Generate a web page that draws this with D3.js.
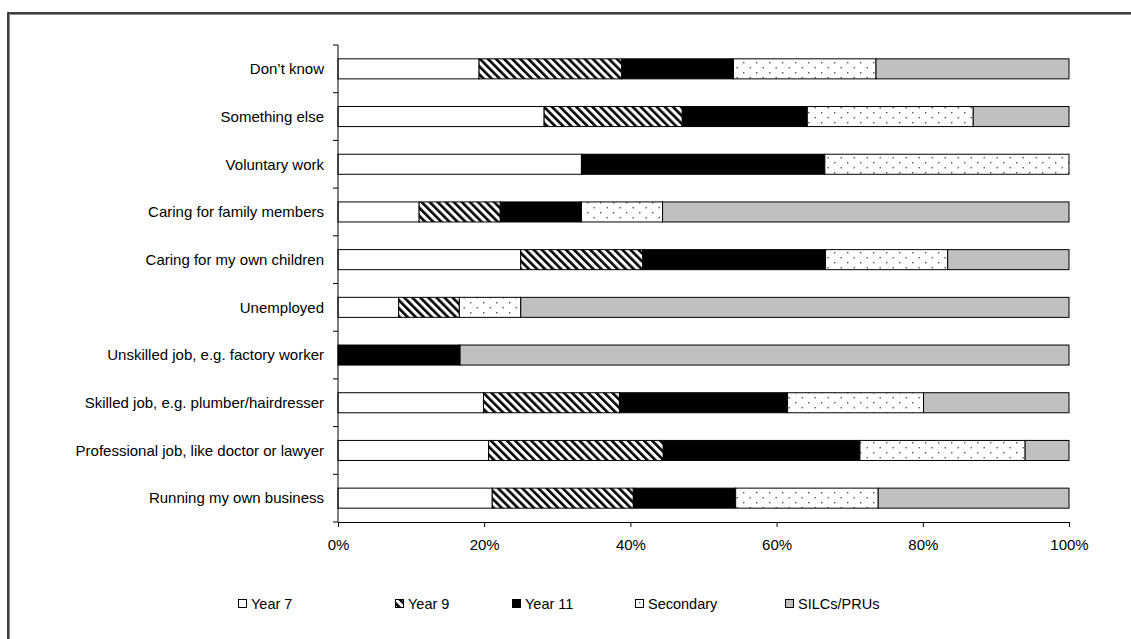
<!DOCTYPE html>
<html>
<head>
<meta charset="utf-8">
<script src="https://cdn.jsdelivr.net/npm/d3@7"></script>
<style>
  html, body { margin: 0; padding: 0; background: #fff; }
  svg { display: block; font-family: "Liberation Sans", Arial, sans-serif; }
</style>
</head>
<body>
<svg id="chart" width="1131" height="639"></svg>
<script>
// Career destinations, share of responses by school group (percent)
const categories = [
  "Don\u2019t know",
  "Something else",
  "Voluntary work",
  "Caring for family members",
  "Caring for my own children",
  "Unemployed",
  "Unskilled job, e.g. factory worker",
  "Skilled job, e.g. plumber/hairdresser",
  "Professional job, like doctor or lawyer",
  "Running my own business"
];
const seriesNames = ["Year 7", "Year 9", "Year 11", "Secondary", "SILCs/PRUs"];
const year7     = [19.3, 28.2, 33.3, 11.1, 25.0,  8.3,  0.0, 19.9, 20.6, 21.1];
const year9     = [19.5, 18.9,  0.0, 11.1, 16.7,  8.3,  0.0, 18.6, 23.9, 19.3];
const year11    = [15.3, 17.1, 33.3, 11.1, 25.0,  0.0, 16.7, 23.0, 26.9, 14.0];
const secondary = [19.5, 22.7, 33.4, 11.1, 16.7,  8.4,  0.0, 18.6, 22.6, 19.5];
const silcs     = [26.4, 13.1,  0.0, 55.6, 16.6, 75.0, 83.3, 19.9,  6.0, 26.1];
const tickValues = [0, 0.2, 0.4, 0.6, 0.8, 1.0];

const svg = d3.select("#chart");

// Fill patterns for the hatched and dotted series
const defs = svg.append("defs");
const stripes = defs.append("pattern")
  .attr("id", "stripes").attr("patternUnits", "userSpaceOnUse")
  .attr("width", 5.7).attr("height", 5.7)
  .attr("patternTransform", "rotate(-45)");
stripes.append("rect").attr("width", 5.7).attr("height", 5.7).attr("fill", "#fff");
stripes.append("rect").attr("x", 0).attr("width", 2.6).attr("height", 5.7).attr("fill", "#000");

const dots = defs.append("pattern")
  .attr("id", "dots").attr("patternUnits", "userSpaceOnUse")
  .attr("width", 13).attr("height", 10);
dots.append("rect").attr("width", 13).attr("height", 10).attr("fill", "#fff");
dots.append("rect").attr("x", 2).attr("y", 2).attr("width", 1.4).attr("height", 1.4).attr("fill", "#555");
dots.append("rect").attr("x", 8.5).attr("y", 7).attr("width", 1.4).attr("height", 1.4).attr("fill", "#555");

const fills = ["#ffffff", "url(#stripes)", "#000000", "url(#dots)", "#c0c0c0"];

// Outer frame
svg.append("path")
  .attr("d", "M9.5,640 V14.5 H1132")
  .attr("fill", "none").attr("stroke", "#888").attr("stroke-width", 1);
svg.append("path")
  .attr("d", "M8,640 V13 H1132")
  .attr("fill", "none").attr("stroke", "#000").attr("stroke-width", 1.5);

const plotLeft = 338, plotRight = 1069, plotTop = 45, plotBottom = 522;

const x = d3.scaleLinear().domain([0, 1]).range([plotLeft, plotRight]);
const y = d3.scaleBand().domain(categories).range([plotTop, plotBottom]).paddingInner(0.58).paddingOuter(0.29);

const rows = categories.map((c, i) => ({
  category: c,
  "Year 7": year7[i] / 100,
  "Year 9": year9[i] / 100,
  "Year 11": year11[i] / 100,
  "Secondary": secondary[i] / 100,
  "SILCs/PRUs": silcs[i] / 100
}));
const stacked = d3.stack().keys(seriesNames)(rows);

// Bars
const g = svg.append("g");
stacked.forEach((layer, si) => {
  g.selectAll(null).data(layer.filter(d => d[1] - d[0] > 0.0005)).enter().append("rect")
    .attr("x", d => x(d[0]))
    .attr("y", d => y(d.data.category))
    .attr("width", d => x(d[1]) - x(d[0]))
    .attr("height", y.bandwidth())
    .attr("fill", fills[si])
    .attr("stroke", "#000")
    .attr("stroke-width", 1);
});

// Category axis (ticks between bands)
const yAxis = svg.append("g");
yAxis.append("line").attr("x1", plotLeft).attr("x2", plotLeft).attr("y1", plotTop).attr("y2", plotBottom)
  .attr("stroke", "#000").attr("stroke-width", 1);
const step = (plotBottom - plotTop) / categories.length;
d3.range(categories.length + 1).forEach(i => {
  yAxis.append("line").attr("x1", plotLeft - 5).attr("x2", plotLeft)
    .attr("y1", plotTop + i * step).attr("y2", plotTop + i * step)
    .attr("stroke", "#000").attr("stroke-width", 1);
});
yAxis.selectAll("text.cat").data(categories).enter().append("text")
  .attr("class", "cat")
  .attr("x", plotLeft - 14)
  .attr("y", d => y(d) + y.bandwidth() / 2)
  .attr("dy", "0.35em")
  .attr("text-anchor", "end")
  .attr("font-size", 15)
  .attr("fill", "#000")
  .text(d => d);

// Value axis
const xAxis = svg.append("g").attr("transform", `translate(0,${plotBottom})`)
  .call(d3.axisBottom(x).tickValues(tickValues).tickFormat(d3.format(".0%")).tickSizeInner(5).tickSizeOuter(0).tickPadding(12));
xAxis.select(".domain").attr("stroke", "#000");
xAxis.selectAll(".tick line").attr("stroke", "#000");
xAxis.selectAll("text").attr("font-size", 15).attr("fill", "#000")
  .attr("font-family", "Liberation Sans, Arial, sans-serif");

// Legend
const legendX = [238, 395, 512, 635, 785];
const legend = svg.append("g");
seriesNames.forEach((name, i) => {
  legend.append("rect")
    .attr("x", legendX[i] + 0.5).attr("y", 599.5)
    .attr("width", 8).attr("height", 8)
    .attr("fill", fills[i]).attr("stroke", "#000").attr("stroke-width", 1);
  legend.append("text")
    .attr("x", legendX[i] + 13).attr("y", 609)
    .attr("font-size", 14.5).attr("fill", "#000")
    .text(name);
});
</script>
</body>
</html>
